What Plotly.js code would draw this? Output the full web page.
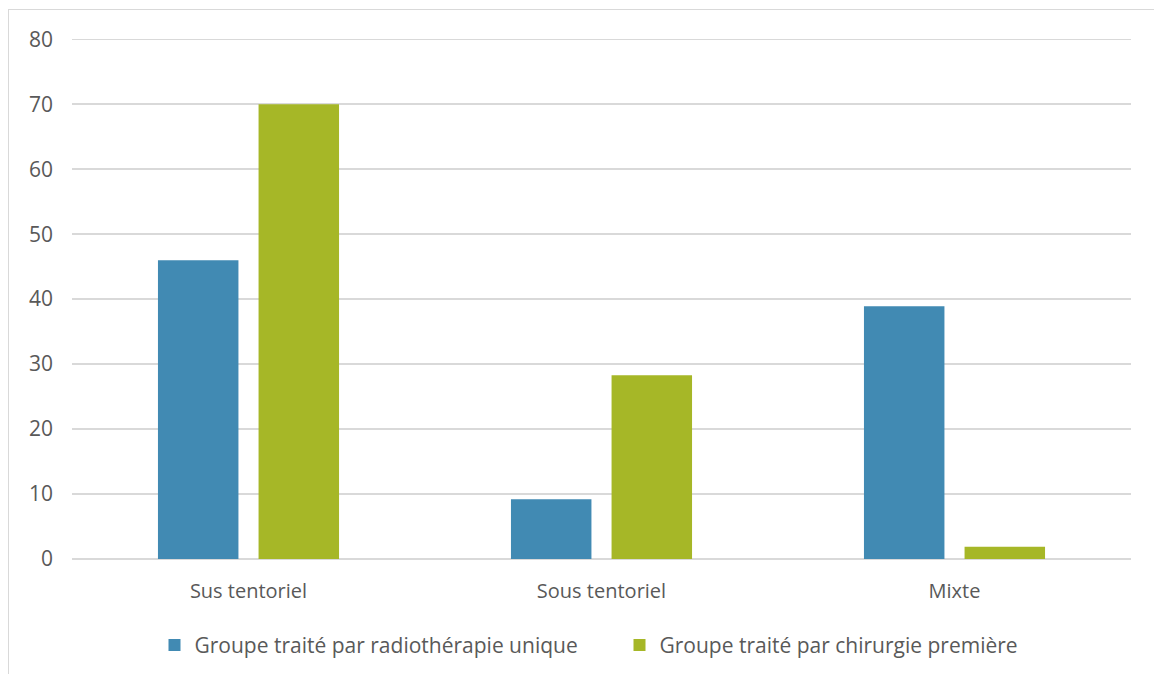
<!DOCTYPE html>
<html>
<head>
<meta charset="utf-8">
<script src="https://cdn.plot.ly/plotly-3.0.1.min.js"></script>
<style>
  html, body { margin: 0; padding: 0; background: #ffffff; }
  #wrap { position: relative; width: 1154px; height: 674px; overflow: hidden; }
  #chart { position: absolute; left: 0; top: 0; width: 1154px; height: 674px; }
  #frame { position: absolute; left: 8px; top: 9px; width: 1200px; height: 700px;
           border: 1.5px solid #d9d9d9; pointer-events: none; }
</style>
</head>
<body>
<div id="wrap">
  <div id="chart"></div>
  <div id="frame"></div>
</div>
<script>
const categories = ["Sus tentoriel", "Sous tentoriel", "Mixte"];
const radiotherapieUnique = [46, 9.2, 38.9];
const chirurgiePremiere = [70, 28.3, 1.9];
const seriesNames = ["Groupe traité par radiothérapie unique", "Groupe traité par chirurgie première"];
const yTicks = [0, 10, 20, 30, 40, 50, 60, 70, 80];

const fontFamily = "'Open Sans', 'Noto Sans', sans-serif";
const textColor = "#595959";

const traces = [
  { type: "bar", x: categories, y: radiotherapieUnique, name: seriesNames[0],
    marker: { color: "#418AB3" }, hoverinfo: "x+y" },
  { type: "bar", x: categories, y: chirurgiePremiere, name: seriesNames[1],
    marker: { color: "#A6B727" }, hoverinfo: "x+y" }
];

const layout = {
  width: 1154, height: 674,
  margin: { l: 72, r: 23, t: 36, b: 115, autoexpand: false },
  paper_bgcolor: "#ffffff", plot_bgcolor: "#ffffff",
  font: { family: fontFamily, size: 20, color: textColor },
  barmode: "group", bargap: 0.43, bargroupgap: 0.2,
  showlegend: true,
  legend: { orientation: "h", x: 0.517, xanchor: "center", y: -0.165, yanchor: "middle",
            font: { size: 21, color: textColor }, itemwidth: 30, tracegroupgap: 0,
            entrywidthmode: "pixels", entrywidth: 420 },
  xaxis: { type: "category", showgrid: false, zeroline: false, showline: false,
           ticks: "", ticklabelstandoff: 18, tickfont: { size: 20, color: textColor } },
  yaxis: { range: [0, 80.5], tickvals: yTicks, ticktext: yTicks.map(String),
           showgrid: true, gridcolor: "#d9d9d9", gridwidth: 1.5,
           zeroline: true, zerolinecolor: "#d9d9d9", zerolinewidth: 1.5,
           showline: false, ticks: "", ticklabelstandoff: 18,
           tickfont: { size: 21, color: textColor }, fixedrange: true }
};

Plotly.newPlot("chart", traces, layout, { displayModeBar: false, staticPlot: true });
</script>
</body>
</html>
